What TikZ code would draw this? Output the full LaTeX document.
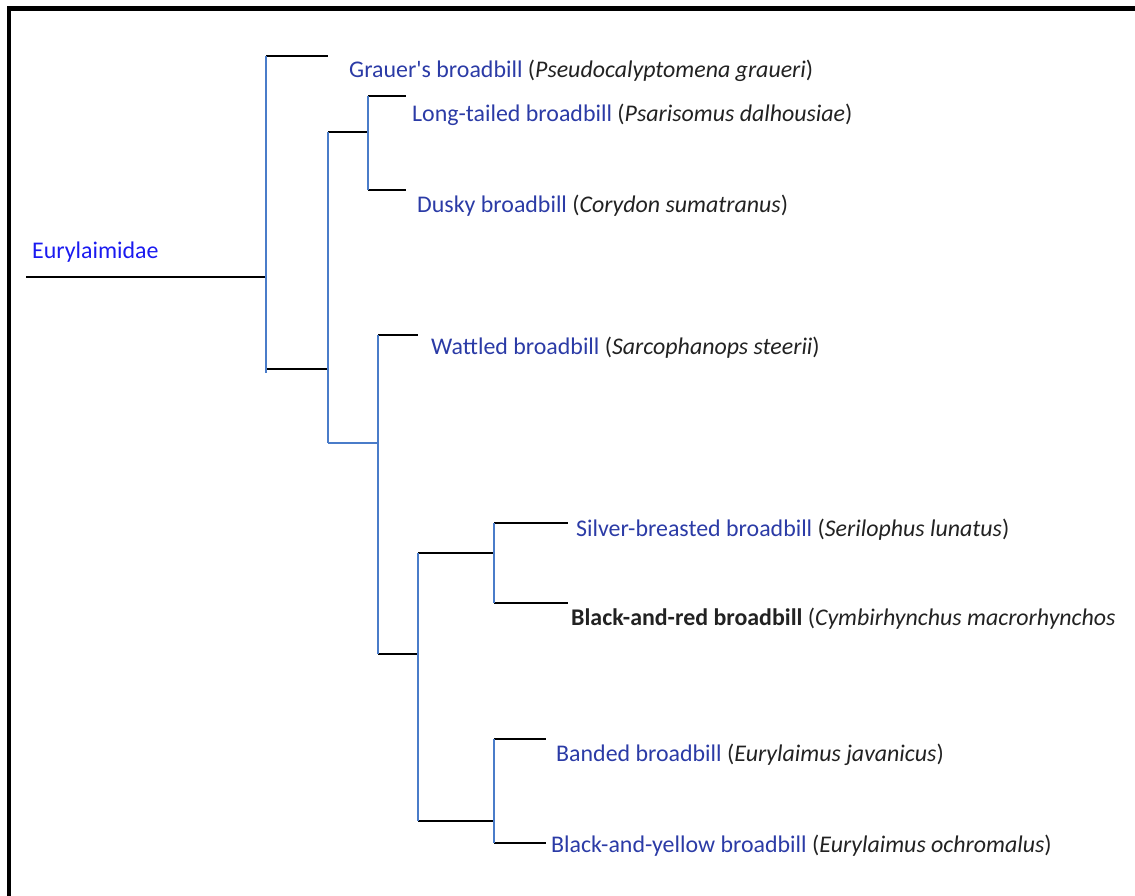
\documentclass[tikz,border=0pt]{standalone}
\usepackage{fontspec}
\setmainfont{Carlito}
\definecolor{vblue}{HTML}{4A7CC9}
\definecolor{cname}{HTML}{2B3BA6}
\definecolor{sname}{HTML}{222222}
\definecolor{rootblue}{HTML}{1A1AF0}
\begin{document}
\begin{tikzpicture}[x=1pt,y=-1pt,
  hline/.style={black,line width=1.6pt},
  vline/.style={vblue,line width=1.4pt},
  lab/.style={anchor=base west,inner sep=0pt,font=\fontsize{23.9}{28}\selectfont,text=cname}]
\useasboundingbox (0,0) rectangle (1135,895);
\draw[line width=4.5pt] (8.75,900) -- (8.75,8.5) -- (1140,8.5);
% junction coordinates
\coordinate (r0) at (26,277);
\coordinate (n1) at (266,277);
\coordinate (n1t) at (266,56);
\coordinate (n1b) at (266,369);
\coordinate (n2) at (328,369);
\coordinate (n2t) at (328,132);
\coordinate (n2b) at (328,443);
\coordinate (n3) at (368,132);
\coordinate (n3t) at (368,96);
\coordinate (n3b) at (368,190);
\coordinate (n4) at (378,443);
\coordinate (n4t) at (378,335);
\coordinate (n4b) at (378,654);
\coordinate (n5) at (418,654);
\coordinate (n5t) at (418,553);
\coordinate (n5b) at (418,821);
\coordinate (n6) at (494,553);
\coordinate (n6t) at (494,523);
\coordinate (n6b) at (494,603);
\coordinate (n7) at (494,821);
\coordinate (n7t) at (494,739);
\coordinate (n7b) at (494,843);
% leaf ends
\coordinate (lg) at (328,56);
\coordinate (ll) at (406,96);
\coordinate (ld) at (406,190);
\coordinate (lw) at (418,335);
\coordinate (ls) at (568,523);
\coordinate (lr) at (568,603);
\coordinate (lb) at (546,739);
\coordinate (ly) at (546,843);
% horizontal branches
\draw[hline] (r0) -- (n1);
\draw[hline] (n1t) -- (lg);
\draw[hline] (n1b) -- (n2);
\draw[hline] (n2t) -- (n3);
\draw[vline] (n2b) -- (n4);
\draw[hline] (n3t) -- (ll);
\draw[hline] (n3b) -- (ld);
\draw[hline] (n4t) -- (lw);
\draw[hline] (n4b) -- (n5);
\draw[hline] (n5t) -- (n6);
\draw[hline] (n5b) -- (n7);
\draw[hline] (n6t) -- (ls);
\draw[hline] (n6b) -- (lr);
\draw[hline] (n7t) -- (lb);
\draw[hline] (n7b) -- (ly);
% vertical branches
\draw[vline] (n1t) -- ([yshift=-4pt]n1b);
\draw[vline] (n2t) -- (n2b);
\draw[vline] (n3t) -- (n3b);
\draw[vline] (n4t) -- (n4b);
\draw[vline] (n5t) -- (n5b);
\draw[vline] (n6t) -- (n6b);
\draw[vline] (n7t) -- (n7b);
% labels
\node[lab,text=rootblue] (root) at (32,258) {Eurylaimidae};
\node[lab] (grauer) at (349,77) {Grauer\textquotesingle s broadbill {\color{sname}(\textit{Pseudocalyptomena graueri})}};
\node[lab] (long) at (412,121.5) {Long-tailed broadbill {\color{sname}(\textit{Psarisomus dalhousiae})}};
\node[lab] (dusky) at (417,212.5) {Dusky broadbill {\color{sname}(\textit{Corydon sumatranus})}};
\node[lab] (wattled) at (431,354.5) {Wattled broadbill {\color{sname}(\textit{Sarcophanops steerii})}};
\node[lab] (silver) at (576,536) {Silver-breasted broadbill {\color{sname}(\textit{Serilophus lunatus})}};
\node[lab,text=sname] (blackred) at (571,625.5) {\textbf{Black-and-red broadbill} (\textit{Cymbirhynchus macrorhynchos}};
\node[lab] (banded) at (556,761.5) {Banded broadbill {\color{sname}(\textit{Eurylaimus javanicus})}};
\node[lab] (byellow) at (551,852.5) {Black-and-yellow broadbill {\color{sname}(\textit{Eurylaimus ochromalus})}};
\end{tikzpicture}
\end{document}
